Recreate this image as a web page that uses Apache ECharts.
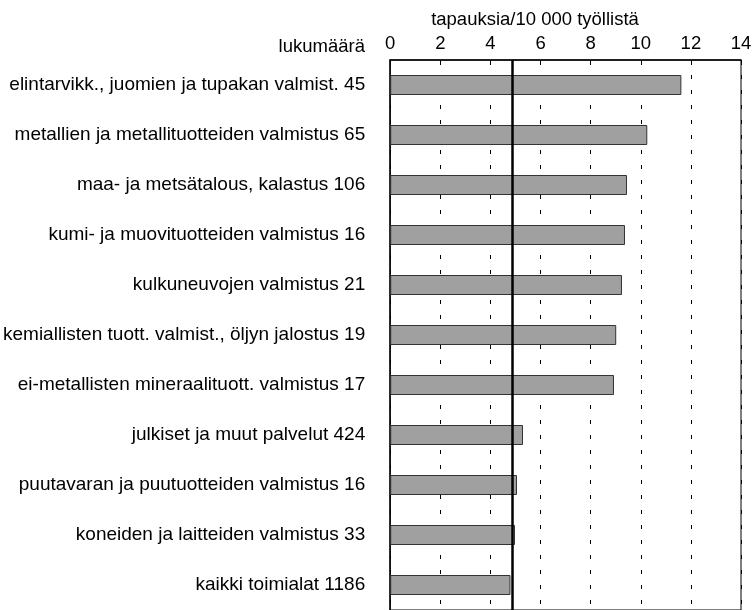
<!DOCTYPE html>
<html>
<head>
<meta charset="utf-8">
<script src="https://cdn.jsdelivr.net/npm/echarts@6/dist/echarts.min.js"></script>
<style>
  html, body { margin: 0; padding: 0; background: #fff; }
  #chart { width: 756px; height: 610px; }
</style>
</head>
<body>
<div id="chart"></div>
<script>
// toimialat ja tapausten lukumäärä
const names = [
  "elintarvikk., juomien ja tupakan valmist.",
  "metallien ja metallituotteiden valmistus",
  "maa- ja metsätalous, kalastus",
  "kumi- ja muovituotteiden valmistus",
  "kulkuneuvojen valmistus",
  "kemiallisten tuott. valmist., öljyn jalostus",
  "ei-metallisten mineraalituott. valmistus",
  "julkiset ja muut palvelut",
  "puutavaran ja puutuotteiden valmistus",
  "koneiden ja laitteiden valmistus",
  "kaikki toimialat"
];
const counts = [45, 65, 106, 16, 21, 19, 17, 424, 16, 33, 1186];
// tapauksia / 10 000 työllistä
const rates = [11.62, 10.26, 9.45, 9.37, 9.25, 9.02, 8.93, 5.30, 5.06, 4.98, 4.80];
const avgLine = 4.88;
const xTicks = [0, 2, 4, 6, 8, 10, 12, 14];

const labels = names.map((n, i) => n + " " + counts[i]);
const font = "'Liberation Sans', Arial, sans-serif";

const chart = echarts.init(document.getElementById("chart"));
chart.setOption({
  animation: false,
  textStyle: { fontFamily: font },
  title: [
    {
      text: "tapauksia/10 000 työllistä",
      left: 530,
      top: 5,
      textAlign: "center",
      textStyle: { fontSize: 18.5, fontWeight: "normal", color: "#000", fontFamily: font }
    },
    {
      text: "lukumäärä",
      right: 386,
      top: 32,
      textStyle: { fontSize: 18.5, fontWeight: "normal", color: "#000", fontFamily: font }
    }
  ],
  grid: {
    left: 390,
    right: 15,
    top: 60,
    height: 555.5,
    show: true,
    borderColor: "#000",
    borderWidth: 1
  },
  xAxis: {
    type: "value",
    position: "top",
    min: xTicks[0],
    max: xTicks[xTicks.length - 1],
    interval: 2,
    axisLine: { show: true, lineStyle: { color: "#000", width: 1.5 } },
    axisTick: { show: true, inside: true, length: 5, lineStyle: { color: "#000" } },
    axisLabel: { fontSize: 18.5, color: "#000", margin: 7, fontFamily: font },
    splitLine: { show: true, lineStyle: { color: "#000", type: [4, 11], width: 1 } }
  },
  yAxis: {
    type: "category",
    inverse: true,
    data: labels,
    axisLine: { show: true, lineStyle: { color: "#000", width: 1.5 } },
    axisTick: { show: false },
    axisLabel: { fontSize: 19, color: "#000", margin: 25, fontFamily: font }
  },
  series: [
    {
      type: "bar",
      data: rates,
      barWidth: 20,
      itemStyle: { color: "#a0a0a0", borderColor: "#333", borderWidth: 1 },
      markLine: {
        silent: true,
        symbol: "none",
        label: { show: false },
        lineStyle: { color: "#000", width: 2.5, type: "solid" },
        data: [{ xAxis: avgLine }]
      }
    }
  ]
});
</script>
</body>
</html>
